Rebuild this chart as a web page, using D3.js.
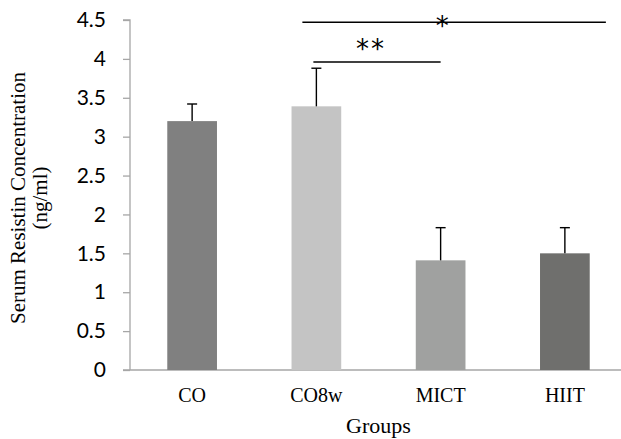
<!DOCTYPE html>
<html>
<head>
<meta charset="utf-8">
<script src="https://cdn.jsdelivr.net/npm/d3@7"></script>
<style>
    body { margin: 0; background: #fff; }
</style>
</head>
<body>
<div id="chart"></div>
<script>
// Chart data
const groups = ["CO", "CO8w", "MICT", "HIIT"];
const means = [3.20, 3.39, 1.41, 1.50];
const errors = [0.22, 0.49, 0.42, 0.33];
const barColors = ["#808080", "#c4c4c4", "#a0a1a0", "#6f6f6d"];
const yTicks = [0, 0.5, 1, 1.5, 2, 2.5, 3, 3.5, 4, 4.5];

// Significance brackets: from / to group, height, label
const sigFrom = ["CO8w", "CO8w"];
const sigTo = ["HIIT", "MICT"];
const sigLevel = [4.47, 3.96];
const sigLabel = ["*", "**"];

const width = 621, height = 439;
const margin = { top: 20, right: -6, bottom: 69, left: 130 };
const serif = "'Liberation Serif', 'Times New Roman', serif";

const svg = d3.select("#chart")
    .append("svg")
    .attr("width", width)
    .attr("height", height);

// Scales
const x = d3.scaleBand()
    .domain(groups)
    .range([margin.left, width - margin.right])
    .paddingInner(0.6)
    .paddingOuter(0.3);

const y = d3.scaleLinear()
    .domain([0, 4.5])
    .range([height - margin.bottom, margin.top]);

// Y axis
const yAxis = d3.axisLeft(y).tickValues(yTicks).tickSize(7).tickFormat(d3.format("")).tickPadding(17);
const yG = svg.append("g")
    .attr("transform", `translate(${margin.left},0)`)
    .call(yAxis);
yG.select(".domain").attr("stroke", "#a6a6a6").attr("stroke-width", 1.3).attr("d", `M-7,${y(4.5)}H0V${y(0)}`);
yG.selectAll(".tick line").attr("stroke", "#a6a6a6").attr("stroke-width", 1.3);
yG.selectAll(".tick text")
    .attr("font-size", null).attr("font-family", null)
    .style("font-family", "Lato, 'Open Sans', sans-serif")
    .style("font-size", "21px")
    .attr("fill", "#000");

// X axis line
svg.append("line")
    .attr("x1", margin.left - 7)
    .attr("x2", width)
    .attr("y1", y(0))
    .attr("y2", y(0))
    .attr("stroke", "#a6a6a6")
    .attr("stroke-width", 1.3);

// Bars
svg.selectAll(".bar")
    .data(groups)
    .enter().append("rect")
    .attr("class", "bar")
    .attr("x", d => x(d))
    .attr("width", x.bandwidth())
    .attr("y", (d, i) => y(means[i]))
    .attr("height", (d, i) => y(0) - y(means[i]))
    .attr("fill", (d, i) => barColors[i]);

// Error bars (upper only)
const err = svg.append("g").attr("stroke", "#000").attr("stroke-width", 1.4);
groups.forEach((g, i) => {
    const cx = x(g) + x.bandwidth() / 2;
    err.append("line")
        .attr("x1", cx).attr("x2", cx)
        .attr("y1", y(means[i])).attr("y2", y(means[i] + errors[i]));
    err.append("line")
        .attr("x1", cx - 5).attr("x2", cx + 5)
        .attr("y1", y(means[i] + errors[i])).attr("y2", y(means[i] + errors[i]));
});

// Category labels
svg.selectAll(".cat-label")
    .data(groups)
    .enter().append("text")
    .attr("class", "cat-label")
    .attr("x", d => x(d) + x.bandwidth() / 2)
    .attr("y", y(0) + 32)
    .attr("text-anchor", "middle")
    .style("font-family", serif)
    .style("font-size", "20px")
    .text(d => d);

// Axis titles
svg.append("text")
    .attr("x", (margin.left + width - margin.right) / 2)
    .attr("y", 433)
    .attr("text-anchor", "middle")
    .style("font-family", serif)
    .style("font-size", "22px")
    .text("Groups");

const yTitle = svg.append("text")
    .attr("transform", `translate(25,${(y(0) + y(4.5)) / 2 + 3}) rotate(-90)`)
    .attr("text-anchor", "middle")
    .style("font-family", serif)
    .style("font-size", "21px");
yTitle.append("tspan").attr("x", 0).attr("y", 0).text("Serum Resistin Concentration");
yTitle.append("tspan").attr("x", 0).attr("y", 22).text("(ng/ml)");

// Significance lines
const sigLeftOffset = [-14, -3];
const sigRightOffset = [41, 0];
sigLabel.forEach((lab, i) => {
    const x1 = x(sigFrom[i]) + x.bandwidth() / 2 + sigLeftOffset[i];
    const x2 = x(sigTo[i]) + x.bandwidth() / 2 + sigRightOffset[i];
    svg.append("line")
        .attr("x1", x1).attr("x2", x2)
        .attr("y1", y(sigLevel[i])).attr("y2", y(sigLevel[i]))
        .attr("stroke", "#000")
        .attr("stroke-width", 1.5);
    svg.append("text")
        .attr("x", i === 0 ? (x1 + x2) / 2 - 12 : (x1 + x2) / 2 - 6)
        .attr("y", y(sigLevel[i]) + (i === 0 ? 13 : -4))
        .attr("text-anchor", "middle")
        .style("font-family", "'DejaVu Sans', sans-serif")
        .style("font-size", "26px")
        .attr("letter-spacing", i === 0 ? 0 : 2)
        .text(lab);
});
</script>
</body>
</html>
